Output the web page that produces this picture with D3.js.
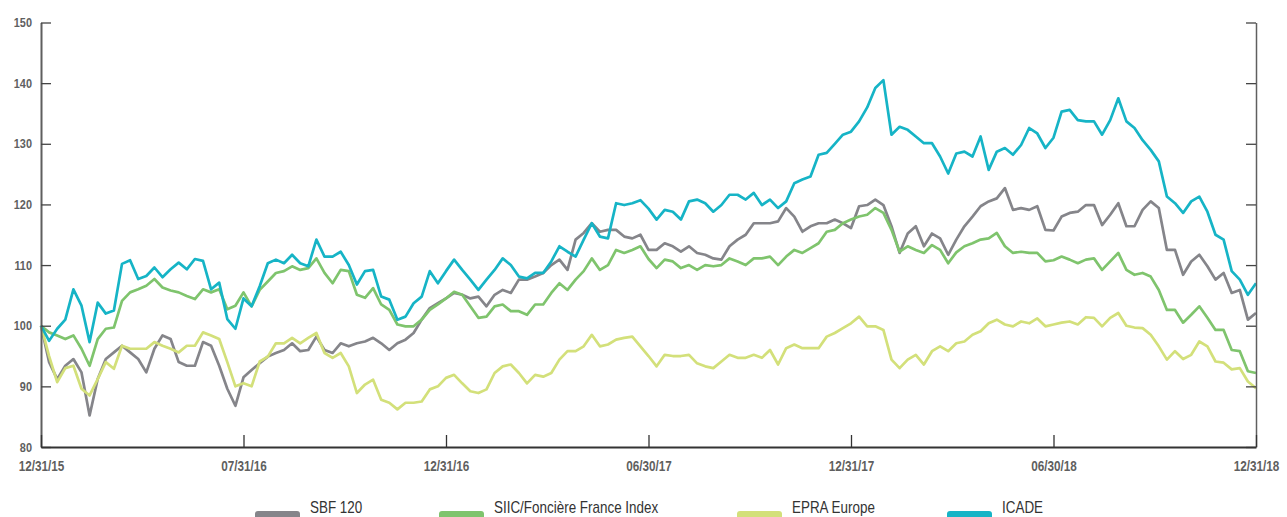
<!DOCTYPE html>
<html>
<head>
<meta charset="utf-8">
<script src="https://cdn.jsdelivr.net/npm/d3@7"></script>
<style>
  html, body { margin: 0; padding: 0; background: #fff; }
  svg { display: block; }
  .narrow { font-family: "Liberation Sans", Arial, sans-serif; }
</style>
</head>
<body>
<svg id="chart" width="1287" height="517"></svg>
<script>
const seriesNames = ["SBF 120", "SIIC/Foncière France Index", "EPRA Europe", "ICADE"];
const seriesColors = ["#85858a", "#7fc46d", "#d3e07a", "#16b4c6"];

const tickLabels = ["12/31/15", "07/31/16", "12/31/16", "06/30/17", "12/31/17", "06/30/18", "12/31/18"];
const tickIndex = [0, 25, 50, 75, 100, 125, 150];
const yTicks = [80, 90, 100, 110, 120, 130, 140, 150];

const sbf120 = [100,94,91.2,93.4,94.5,92.3,85.2,91.2,94.5,95.6,
96.7,95.6,94.5,92.3,96.2,98.4,97.8,94,93.4,93.4,
97.3,96.7,93.4,89.6,86.8,91.5,92.7,93.8,94.9,95.5,
96,97.1,95.8,96,98.2,96,95.5,97.1,96.6,97.1,
97.4,98,97.1,96,97.1,97.7,98.8,101,102.9,103.7,
104.5,105.4,105.1,104.5,104.8,103.2,105.1,105.9,105.4,107.6,
107.6,108.1,108.7,110,110.9,109.2,114.2,115.3,116.9,115.5,
115.8,115.8,114.7,114.4,115,112.5,112.5,113.6,113.1,112.2,
113.1,112,111.7,111.1,110.9,113.1,114.2,115,116.9,116.9,
116.9,117.2,119.4,118,115.5,116.4,116.9,116.9,117.5,116.9,
116.1,119.7,119.9,120.8,119.9,116.4,112,115.2,116.4,113.1,
115.2,114.4,111.7,114.2,116.4,118,119.7,120.5,121,122.7,
119.1,119.4,119.1,119.7,115.8,115.7,118,118.6,118.8,119.9,
119.9,116.6,118.3,120.2,116.4,116.4,119.1,120.5,119.4,112.5,
112.5,108.4,110.6,111.7,109.8,107.6,108.7,105.4,105.9,101,102.1];

const siic = [100,98.9,98.4,97.8,98.4,96.2,93.4,97.8,99.5,99.7,
104.1,105.5,106,106.6,107.7,106.3,105.8,105.5,104.9,104.4,
106,105.5,106,102.7,103.3,105.5,103.2,105.9,107.3,108.7,
109,109.8,109.2,109.5,111.1,108.7,107,109.2,109,105.1,
104.6,106.2,103.5,102.6,100.2,99.9,99.9,101,102.6,103.5,
104.5,105.6,105.1,103.2,101.3,101.5,103.2,103.5,102.4,102.4,
101.8,103.5,103.5,105.4,107,105.9,107.6,109,111.1,109.2,
110,112.5,112,112.5,113.1,111,109.5,110.9,110.6,109.5,
110,109.2,110,109.8,110,111.1,110.6,110,111.1,111.1,
111.4,110,111.4,112.5,112,112.8,113.6,115.5,115.8,116.9,
117.5,118,118.3,119.4,118.6,115.8,112.2,113.1,112.5,112,
113.3,112.5,110.3,112.1,113.1,113.6,114.2,114.4,115.3,113.1,
112,112.2,112,112,110.6,110.8,111.4,110.9,110.3,110.9,
111.1,109.2,110.6,112,109.2,108.4,108.7,108.1,105.9,102.6,
102.6,100.5,101.8,103.2,101.3,99.3,99.3,96,95.8,92.5,92.2];

const epra = [100,95,90.7,93,93.4,89.6,88.5,91.2,94,92.9,
96.7,96.2,96.2,96.2,97.3,96.7,96.2,95.6,96.7,96.7,
98.9,98.4,97.8,94,90,90.5,90,94.1,94.9,97.1,
97.1,98,97.1,98,98.8,95.5,94.7,95.5,93.3,88.9,
90.3,91.1,87.8,87.3,86.2,87.3,87.3,87.5,89.5,90,
91.4,91.9,90.5,89.2,88.9,89.5,92.2,93.3,93.6,92.2,
90.5,91.9,91.6,92.2,94.4,95.8,95.8,96.6,98.5,96.6,
96.9,97.7,98,98.2,96.6,95,93.3,95.2,95,95,
95.2,93.8,93.3,93,94.1,95.2,94.7,94.7,95.2,94.7,
96,93.6,96.3,96.9,96.3,96.3,96.3,98.2,98.8,99.6,
100.4,101.5,99.9,99.9,99.3,94.4,93,94.4,95.2,93.6,
95.8,96.6,95.8,97.1,97.4,98.5,99.1,100.4,101,100.2,
99.9,100.7,100.4,101.2,99.9,100.2,100.5,100.7,100.2,101.4,
101.3,99.9,101.3,102.1,100,99.7,99.6,98.5,96.6,94.4,
95.8,94.5,95.2,97.4,96.6,94.1,93.9,92.8,93,90.8,89.7];

const icade = [100,97.5,99.5,101,106,103.3,97.3,103.8,102,102.5,
110.2,110.8,107.7,108.2,109.6,108,109.3,110.4,109.3,111,
110.7,106,107.1,101.1,99.5,104.5,103.2,106.5,110.3,110.9,
110.3,111.7,110.3,109.8,114.2,111.4,111.4,112.2,110,106.8,
109,109.2,104.8,104.3,101,101.5,103.7,104.8,109,107,
109,110.9,109.2,107.6,105.9,107.6,109.2,111.1,110,108.1,
107.8,108.7,108.7,110.6,113.1,112.2,111.4,114.2,116.9,114.7,
114.4,120.2,119.9,120.2,120.7,119.3,117.5,119.1,118.8,117.5,
120.5,120.8,120.2,118.8,119.9,121.6,121.6,120.8,121.9,119.9,
120.8,119.4,120.5,123.5,124.1,124.6,128.2,128.5,130,131.5,
132,133.7,136,139.2,140.5,131.5,132.8,132.3,131.2,130.1,
130.1,127.9,125.1,128.4,128.7,127.9,131.2,125.7,128.7,129.3,
128.2,129.8,132.6,131.7,129.3,131,135.3,135.6,133.9,133.7,
133.7,131.5,133.9,137.5,133.7,132.6,130.6,129,127.1,121.3,
120.2,118.6,120.5,121.3,118.8,115,114.2,109,107.6,105.1,107];

const allSeries = [sbf120, siic, epra, icade];

const svg = d3.select("#chart");
const plotLeft = 41, plotRight = 1256, plotTop = 22.5, plotBottom = 447;
const squeeze = 0.84;

const x = d3.scaleLinear().domain([0, sbf120.length - 1]).range([plotLeft, plotRight]);
const y = d3.scaleLinear().domain([80, 150]).range([plotBottom, plotTop]);

// lines
const line = d3.line().x((d, i) => x(i)).y(d => y(d));
allSeries.forEach((s, k) => {
  svg.append("path")
    .datum(s)
    .attr("fill", "none")
    .attr("stroke", seriesColors[k])
    .attr("stroke-width", 2.7)
    .attr("stroke-linejoin", "round")
    .attr("d", line);
});

// left axis
const yAxisL = svg.append("g")
  .attr("transform", `translate(${plotLeft},0)`)
  .call(d3.axisLeft(y).tickValues(yTicks).tickSizeInner(-10).tickSizeOuter(0).tickPadding(9));
yAxisL.select(".domain").attr("stroke", "#5f5f5f").attr("stroke-width", 2);
yAxisL.selectAll(".tick line").attr("stroke", "#444").attr("stroke-width", 1.3);
yAxisL.selectAll(".tick text")
  .attr("class", "narrow")
  .attr("fill", "#5f5f5f")
  .attr("x", -9 / squeeze)
  .attr("transform", `scale(${squeeze},1)`)
  .style("font-size", "13px")
  .style("font-weight", "bold");

// right axis
const yAxisR = svg.append("g")
  .attr("transform", `translate(${plotRight},0)`)
  .call(d3.axisRight(y).tickValues(yTicks).tickSizeInner(-10).tickSizeOuter(0).tickFormat(""));
yAxisR.select(".domain").attr("stroke", "#5f5f5f").attr("stroke-width", 1.5);
yAxisR.selectAll(".tick line").attr("stroke", "#444").attr("stroke-width", 1.3);

// bottom axis
const xAxis = svg.append("g")
  .attr("transform", `translate(0,${plotBottom})`)
  .call(d3.axisBottom(x).tickValues(tickIndex)
    .tickFormat((d, i) => tickLabels[i])
    .tickSizeInner(-12).tickSizeOuter(0).tickPadding(14));
xAxis.select(".domain").attr("stroke", "#333").attr("stroke-width", 1.8);
xAxis.selectAll(".tick line").attr("stroke", "#333").attr("stroke-width", 1.3);
xAxis.selectAll(".tick text")
  .attr("class", "narrow")
  .attr("fill", "#5f5f5f")
  .attr("transform", `scale(${squeeze},1)`)
  .style("font-size", "14px")
  .style("font-weight", "bold");

// legend
const legendX = [255, 439, 737, 947];
const legend = svg.append("g");
seriesNames.forEach((name, k) => {
  legend.append("rect")
    .attr("x", legendX[k]).attr("y", 511)
    .attr("width", 45).attr("height", 14).attr("rx", 3)
    .attr("fill", seriesColors[k]);
  legend.append("g")
    .attr("transform", `translate(${legendX[k] + 55},513)`)
    .append("text")
    .attr("class", "narrow")
    .attr("transform", `scale(${squeeze},1)`)
    .attr("fill", "#333")
    .style("font-size", "16px")
    .text(name);
});
</script>
</body>
</html>
